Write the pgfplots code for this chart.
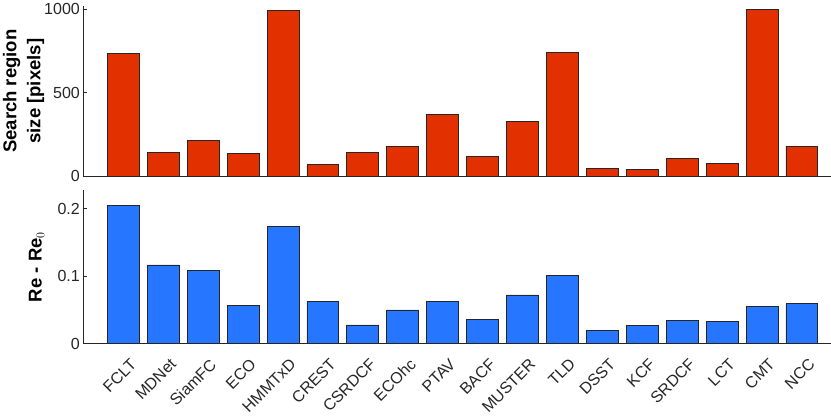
\documentclass[border={3pt 0pt 0pt 0pt}]{standalone}
\usepackage{pgfplots}
\pgfplotsset{compat=1.18}
\usepackage{fontspec}
\setmainfont{Liberation Sans}
\definecolor{barred}{RGB}{227,48,0}
\definecolor{barblue}{RGB}{38,118,255}
\definecolor{axgray}{RGB}{38,38,38}
\begin{document}
\begin{tikzpicture}
\pgfplotsset{
  common/.style={
    scale only axis,
    width=746pt,
    xmin=0, xmax=18.72,
    axis x line*=bottom,
    axis y line*=left,
    axis line style={axgray, line width=0.7pt},
    ybar, bar width=0.8, bar shift=0pt,
    xtick={1,...,18},
    tick style={axgray, line width=0.6pt},
    tick align=inside,
    major tick length=4pt,
    ticklabel style={font=\fontsize{16}{18}\selectfont, text=axgray},
    /pgf/number format/assume math mode=true,
    /pgf/number format/1000 sep={},
    ylabel style={font=\bfseries\fontsize{18.5}{24}\selectfont, align=center, text=black,
      at={(axis description cs:-0.052,0.5)}, anchor=south, inner sep=0pt},
    enlarge y limits=false,
  }
}
\begin{axis}[common,
  at={(0,167pt)}, anchor=south west,
  height=170pt,
  ymin=0, ymax=1018,
  ytick={0,500,1000},
  xticklabels={},
  ylabel={Search region\\size [pixels]},
]
\addplot[fill=barred, draw=black!85, line width=0.8pt] coordinates {
(1,732) (2,145) (3,213) (4,135) (5,994) (6,70) (7,145) (8,179) (9,370)
(10,119) (11,328) (12,742) (13,48) (14,40) (15,104) (16,78) (17,1000) (18,179)
};
\end{axis}
\begin{axis}[common,
  at={(0,0)}, anchor=south west,
  height=153pt,
  ymin=0, ymax=0.227,
  ytick={0,0.1,0.2},
  yticklabel style={/pgf/number format/fixed, /pgf/number format/precision=1},
  xticklabels={FCLT,MDNet,SiamFC,ECO,HMMTxD,CREST,CSRDCF,ECOhc,PTAV,BACF,MUSTER,TLD,DSST,KCF,SRDCF,LCT,CMT,NCC},
  xticklabel style={xshift=6pt, yshift=-11pt, rotate=45, anchor=north east, inner sep=2pt},
  ylabel={Re - Re$_{0}$},
]
\addplot[fill=barblue, draw=black!85, line width=0.8pt] coordinates {
(1,0.205) (2,0.1164) (3,0.108) (4,0.056) (5,0.173) (6,0.0626) (7,0.0276) (8,0.0498) (9,0.063)
(10,0.0355) (11,0.072) (12,0.1006) (13,0.020) (14,0.0266) (15,0.0345) (16,0.033) (17,0.0547) (18,0.059)
};
\end{axis}
\end{tikzpicture}
\end{document}
